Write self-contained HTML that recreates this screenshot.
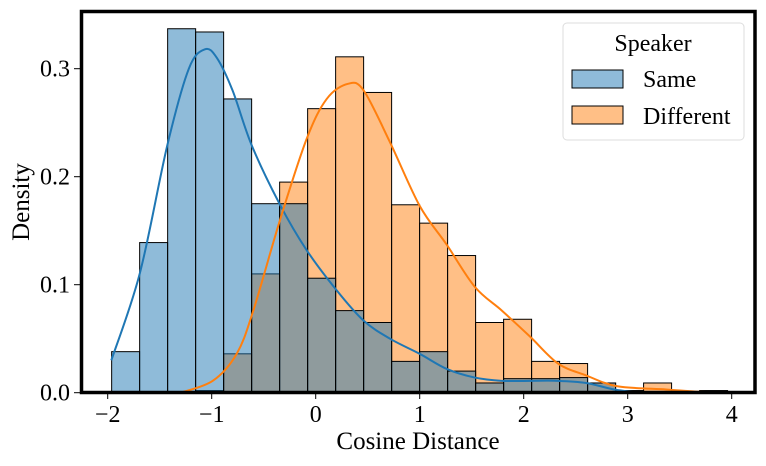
<!DOCTYPE html>
<html><head><meta charset="utf-8"><style>
body{margin:0;background:#fff;}
svg{display:block;font-family:"Liberation Serif",serif;}
</style></head><body>
<svg id="chart" width="766" height="466" xmlns="http://www.w3.org/2000/svg">
<g id="bars"></g>
<g id="curves"></g>
<g id="axes"></g>
<g>
<rect x="563" y="23" width="181" height="117" rx="4" fill="#fff" fill-opacity="0.8" stroke="#ddd"/>
<text x="653" y="51" font-size="24" text-anchor="middle">Speaker</text>
<rect x="572" y="70" width="51" height="18" fill="#1f77b4" fill-opacity="0.5" stroke="#000"/>
<text x="643" y="87" font-size="24">Same</text>
<rect x="572" y="106" width="51" height="18" fill="#ff7f0e" fill-opacity="0.5" stroke="#000"/>
<text x="643" y="124" font-size="24">Different</text>
</g>
</svg>
<script>
const binStart = -1.962;
const binWidth = 0.2692;
const sameDensity = [0.038,0.139,0.337,0.334,0.272,0.175,0.175,0.106,0.076,0.065,0.029,0.038,0.020,0.009,0.013,0.013,0.014,0.009,0,0,0,0];
const diffDensity = [0,0,0,0.002,0.036,0.110,0.195,0.263,0.311,0.278,0.174,0.157,0.127,0.065,0.068,0.029,0.027,0.009,0.002,0.009,0,0.002];
const sameKdeX = [-1.965,-1.69,-1.427,-1.22,-1.065,-0.95,-0.8,-0.615,-0.343,-0.087,0.2,0.458,0.714,1.0,1.26,1.53,1.79,2.06,2.32,2.6,2.87,3.12];
const sameKdeY = [0.030,0.111,0.229,0.300,0.318,0.310,0.280,0.229,0.174,0.132,0.095,0.067,0.050,0.036,0.022,0.014,0.011,0.011,0.011,0.009,0.003,0.0];
const diffKdeX = [-1.3,-0.99,-0.76,-0.6,-0.343,-0.087,0.106,0.31,0.46,0.714,1.0,1.26,1.53,1.79,2.06,2.33,2.6,2.9,3.37,3.66,3.95];
const diffKdeY = [0.0,0.011,0.036,0.076,0.160,0.235,0.272,0.286,0.280,0.232,0.173,0.137,0.098,0.076,0.052,0.027,0.016,0.006,0.003,0.001,0.0];
const xTicks = [-2,-1,0,1,2,3,4];
const yTicks = [0.0,0.1,0.2,0.3];

const NS="http://www.w3.org/2000/svg";
const xs = v => 315.7 + 104*v;
const ys = d => 392.7 - 1080*d;
function mk(tag, attrs, parent){const e=document.createElementNS(NS,tag);for(const k in attrs)e.setAttribute(k,attrs[k]);parent.appendChild(e);return e;}
const bars=document.getElementById('bars');
function drawBars(arr,color,name){
  arr.forEach((d,i)=>{
    if(d<=0) return;
    const x0=xs(binStart+i*binWidth), x1=xs(binStart+(i+1)*binWidth);
    const r=mk('rect',{x:x0,y:ys(d),width:x1-x0,height:ys(0)-ys(d),fill:color,'fill-opacity':0.5,stroke:'#000','stroke-width':1},bars);
    
    
  });
}
drawBars(diffDensity,'#ff7f0e','different');
drawBars(sameDensity,'#1f77b4','same');
const curves=document.getElementById('curves');
function smoothPath(X,Y){
  const p=X.map((x,i)=>[xs(x),ys(Y[i])]);
  let d='M'+p[0][0]+','+p[0][1];
  for(let i=0;i<p.length-1;i++){
    const p0=p[i-1]||p[i],p1=p[i],p2=p[i+1],p3=p[i+2]||p2;
    const c1=[p1[0]+(p2[0]-p0[0])/6,p1[1]+(p2[1]-p0[1])/6];
    const c2=[p2[0]-(p3[0]-p1[0])/6,p2[1]-(p3[1]-p1[1])/6];
    d+=' C'+c1+' '+c2+' '+p2;
  }
  return d;
}
const c1=mk('path',{d:smoothPath(sameKdeX,sameKdeY),fill:'none',stroke:'#1f77b4','stroke-width':2},curves);


const c2=mk('path',{d:smoothPath(diffKdeX,diffKdeY),fill:'none',stroke:'#ff7f0e','stroke-width':2},curves);


const axes=document.getElementById('axes');
const frame=mk('rect',{x:81.5,y:11.5,width:673.5,height:381,fill:'none',stroke:'#000','stroke-width':3.5},axes);


xTicks.forEach(v=>{
  const t=mk('line',{x1:xs(v),x2:xs(v),y1:394,y2:399,stroke:'#000','stroke-width':1},axes);
  
  
  const l=mk('text',{x:xs(v),y:422,'font-size':24,'text-anchor':'middle'},axes);
  l.textContent=(v<0?'\u2212'+(-v):String(v));
  
  
});
yTicks.forEach(v=>{
  const t=mk('line',{x1:74,x2:80,y1:ys(v),y2:ys(v),stroke:'#000','stroke-width':1},axes);
  
  
  const l=mk('text',{x:70,y:ys(v)+8,'font-size':24,'text-anchor':'end'},axes);
  l.textContent=v.toFixed(1);
  
  
});
const xt=mk('text',{x:418,y:449,'font-size':25,'text-anchor':'middle'},axes);
xt.textContent='Cosine Distance';


const yt=mk('text',{x:0,y:0,'font-size':25,'text-anchor':'middle',transform:'translate(29,202) rotate(-90)'},axes);
yt.textContent='Density';


</script>
</body></html>
